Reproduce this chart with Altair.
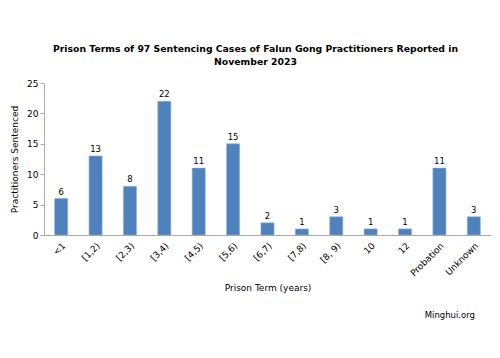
import altair as alt
import pandas as pd

categories = ["<1", "[1,2)", "[2,3)", "[3,4)", "[4,5)", "[5,6)", "[6,7)", "[7,8)", "[8, 9)", "10", "12", "Probation", "Unknown"]
counts = [6, 13, 8, 22, 11, 15, 2, 1, 3, 1, 1, 11, 3]
credit_text = ["Minghui.org"]

df = pd.DataFrame({"term": categories, "count": counts})
credit_df = pd.DataFrame({"label": credit_text})
FONT = "DejaVu Sans"

base = alt.Chart(df).encode(
    x=alt.X("term:N", sort=categories, title="Prison Term (years)",
            scale=alt.Scale(paddingInner=0.62, paddingOuter=0.31),
            axis=alt.Axis(labelAngle=-45, ticks=False, domainColor="#aaaaaa",
                          labelFont=FONT, labelFontSize=9, labelColor="#000000",
                          titleFont=FONT, titleFontSize=9, titleFontWeight="normal",
                          titleColor="#000000", labelPadding=6, titlePadding=6)),
    y=alt.Y("count:Q", title="Practitioners Sentenced",
            scale=alt.Scale(domain=[0, 25]),
            axis=alt.Axis(values=[0, 5, 10, 15, 20, 25], grid=False, domainColor="#aaaaaa",
                          tickColor="#aaaaaa", tickSize=4, labelFont=FONT, labelFontSize=9,
                          labelColor="#000000", titleFont=FONT, titleFontSize=9,
                          titleFontWeight="normal", titleColor="#000000", titlePadding=7)),
)

bars = base.mark_bar(color="#4F81BD", stroke="#8EAEDA", strokeWidth=0.6)
labels = base.mark_text(dy=-7, font=FONT, fontSize=8.5, color="#000000").encode(text="count:Q")

credit = alt.Chart(credit_df).mark_text(font=FONT, fontSize=8.5, fontWeight="normal",
                                        color="#000000", align="right").encode(
    x=alt.value(431), y=alt.value(232), text="label:N")

chart = alt.layer(bars, labels, credit).properties(
    width=447, height=152,
    autosize=alt.AutoSizeParams(type="none"),
    padding={"left": 36, "top": 75, "right": 1, "bottom": 100},
    title=alt.TitleParams(
        ["Prison Terms of 97 Sentencing Cases of Falun Gong Practitioners Reported in", "November 2023"],
        font=FONT, fontSize=9.3, fontWeight="bold", color="#000000", anchor="middle",
        dx=-12, offset=12, lineHeight=13),
).configure_view(stroke=None)

chart.save("out.html", embed_options={"renderer": "svg", "actions": False})
